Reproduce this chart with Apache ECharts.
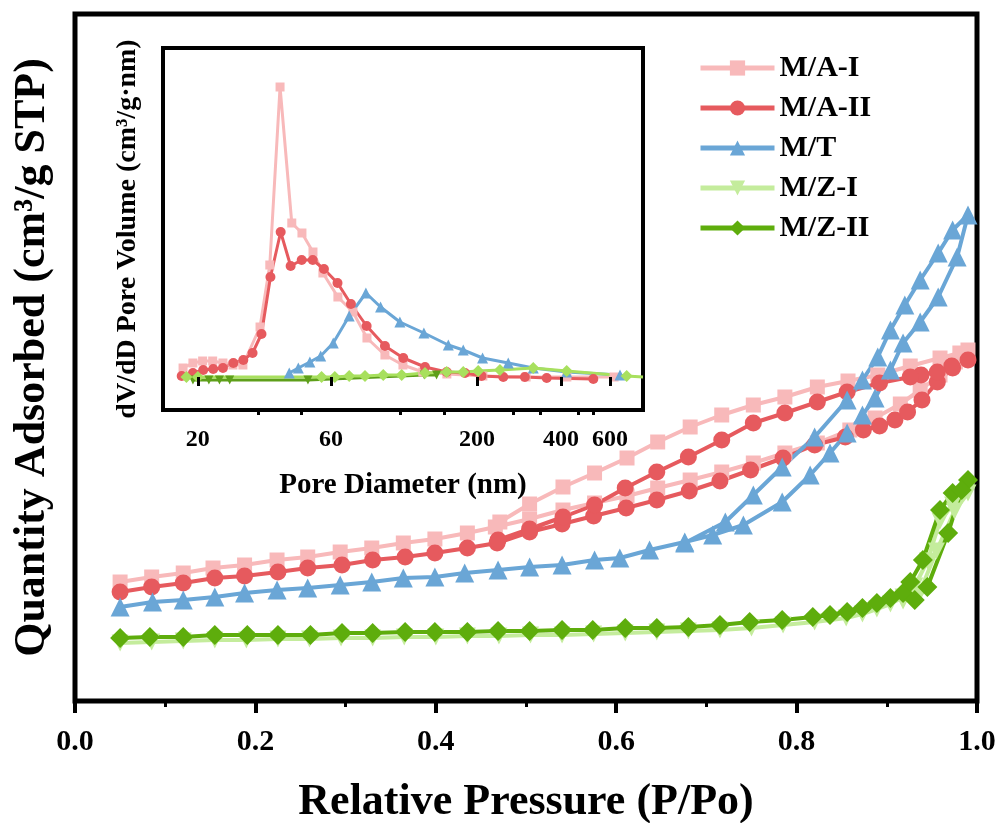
<!DOCTYPE html>
<html><head><meta charset="utf-8">
<script src="https://cdn.jsdelivr.net/npm/echarts@6/dist/echarts.min.js"></script>
<style>html,body{margin:0;padding:0;background:#fff}#c{width:999px;height:823px}</style>
</head><body><div id="c"></div>
<script>
// ---------- main isotherm data: [P/Po, quantity] (adsorption then desorption) ----------
const seriesNames = ['M/A-I', 'M/A-II', 'M/T', 'M/Z-I', 'M/Z-II'];
const xTickLabels = [0, 0.2, 0.4, 0.6, 0.8, 1.0];

const maI = [
 [0.050,119],[0.085,124],[0.120,128],[0.153,133],[0.188,136],[0.224,141],[0.258,144],[0.294,149],[0.329,153],[0.364,158],
 [0.399,162],[0.435,168],[0.466,174],[0.504,182],[0.541,191],[0.576,198],[0.612,205],[0.646,213],[0.682,221],[0.717,229],
 [0.752,238],[0.787,248],[0.823,258],[0.859,271],[0.887,283],[0.915,297],[0.937,311],[0.959,326],[0.976,339],[0.990,351],
 [0.981,348],[0.959,343],[0.926,335],[0.890,326],[0.857,320],[0.823,314],[0.787,304],[0.752,296],[0.717,286],[0.682,274],
 [0.646,259],[0.612,243],[0.576,228],[0.541,214],[0.504,197],[0.471,179]
];
const maII = [
 [0.050,109],[0.085,114],[0.120,118],[0.155,123],[0.188,125],[0.225,129],[0.258,133],[0.296,136],[0.330,141],[0.366,144],
 [0.399,148],[0.435,153],[0.468,158],[0.504,169],[0.540,177],[0.575,185],[0.611,193],[0.645,201],[0.681,210],[0.715,220],
 [0.749,231],[0.785,243],[0.820,256],[0.854,264],[0.874,271],[0.892,275],[0.909,281],[0.923,289],[0.939,301],[0.956,319],
 [0.973,333],[0.990,341],
 [0.972,335],[0.956,329],[0.938,326],[0.926,324],[0.892,318],[0.856,309],[0.823,299],[0.787,288],[0.752,278],[0.717,261],
 [0.680,244],[0.645,229],[0.610,213],[0.576,196],[0.541,184],[0.504,172],[0.469,161]
];
const mT = [
 [0.050,94],[0.086,99],[0.120,101],[0.155,104],[0.188,108],[0.224,111],[0.258,113],[0.294,116],[0.329,119],[0.364,123],
 [0.399,124],[0.432,128],[0.469,131],[0.504,134],[0.540,136],[0.576,141],[0.604,143],[0.637,151],[0.676,159],[0.707,166],
 [0.741,176],[0.784,199],[0.815,226],[0.837,248],[0.856,268],[0.873,286],[0.887,303],[0.904,331],[0.918,358],[0.937,379],
 [0.957,404],[0.978,444],[0.990,486],
 [0.973,471],[0.957,448],[0.937,421],[0.920,396],[0.904,371],[0.890,344],[0.873,321],[0.856,301],[0.820,264],[0.784,234],
 [0.752,206],[0.721,179],[0.676,158]
];
const mZI = [
 [0.050,58],[0.085,59],[0.120,60],[0.155,61],[0.190,61],[0.225,62],[0.260,62],[0.295,63],[0.330,63],[0.365,64],
 [0.400,64],[0.435,65],[0.470,65],[0.505,66],[0.540,66],[0.575,67],[0.610,68],[0.645,69],[0.680,70],[0.715,71],
 [0.750,73],[0.785,76],[0.820,79],[0.855,83],[0.873,87],[0.889,92],[0.904,97],[0.918,104],[0.931,115],[0.945,140],
 [0.959,180],[0.973,196],[0.990,208],
 [0.975,190],[0.955,150],[0.935,105],[0.918,100]
];
const mZII = [
 [0.050,63],[0.083,64],[0.120,64],[0.155,66],[0.191,66],[0.225,66],[0.261,66],[0.296,68],[0.330,68],[0.366,69],
 [0.399,69],[0.435,69],[0.469,70],[0.504,70],[0.540,71],[0.574,71],[0.610,73],[0.645,73],[0.680,74],[0.715,76],
 [0.748,79],[0.784,81],[0.818,84],[0.837,86],[0.856,89],[0.873,93],[0.889,98],[0.904,103],[0.918,108],[0.926,119],
 [0.940,141],[0.959,191],[0.973,208],[0.990,221],
 [0.983,211],[0.968,168],[0.945,114],[0.931,101]
];

// ---------- inset pore size distribution: [pore diameter nm, dV/dD] ----------
const insetTickLabels = [20, 60, 200, 400, 600];
const insetMinorTicks = [33, 47, 106, 153, 270, 336, 460, 520];
const psdMAI = [
 [17.7,9],[19.2,14],[20.8,16],[22.6,16],[24.6,14],[26.7,12],[29.0,12],[33.4,50],[36.2,112],[39.4,290],[43.4,154],[47.2,144],
 [51.7,125],[56.1,104],[63.5,80],[71.9,65],[80.7,39],[93.6,22],[108.6,12],[128,5],[156,3],[210,1],[300,0],[420,0],[620,0]
];
const psdMAII = [
 [17.5,1],[19.2,4],[20.9,7],[22.7,8],[24.6,9],[26.8,14],[29.1,17],[31.4,24],[33.8,43],[36.4,100],[39.6,145],[43.0,111],
 [47.1,117],[51.6,117],[56.6,108],[63.3,94],[70.7,73],[80.5,51],[93.6,31],[108.9,19],[130.3,10],[155.8,5],[181.2,4],
 [207.8,1],[248.5,0],[297,0],[355.6,-1],[522.4,-2]
];
const psdMT = [
 [42.5,4],[45.8,9],[50.4,15],[55.1,21],[61.1,34],[69.7,61],[80.0,84],[90.3,70],[105.9,55],[129.1,44],[157.9,32],[178.6,27],
 [209.5,19],[258.9,14],[318.3,9],[419.4,5],[651,2]
];
const psdMZdark = [[19.2,-3],[21.9,-3],[23.9,-3],[26.0,-3],[49.6,-3],[129.5,2],[143.3,2]];
const psdMZlight = [
 [18.2,0],[20.0,0],[55.5,0],[61.9,0],[69.7,1],[79.4,1],[92.3,2],[107.5,2],[130.3,4],[155.8,5],[178.6,5],[202,6],
 [241.8,7],[318.3,9],[419.4,6],[688,1],[787,0]
];

const colors = {maI:'#F8B9BA', maII:'#E65A5E', mT:'#6AA6D6', mZI:'#C4EC9C', mZII:'#5EAD0C', insetLight:'#A8E05E', insetDark:'#5E9F1A'};
const FONT = '"Liberation Serif", "Times New Roman", serif';
const lg = v => Math.log10(v);
const toLog = arr => arr.map(d => [lg(d[0]), d[1]]);

function mainSeries(name, data, color, symbol, size, rot) {
  return {name, type:'line', xAxisIndex:0, yAxisIndex:0, data, symbol, symbolSize:size, symbolRotate:rot||0,
    itemStyle:{color}, lineStyle:{color, width:4}, animation:false, z:3};
}
function insetSeries(name, data, color, symbol, size, rot) {
  return {name, type:'line', xAxisIndex:1, yAxisIndex:1, data:toLog(data), symbol, symbolSize:size, symbolRotate:rot||0,
    itemStyle:{color}, lineStyle:{color, width:3}, animation:false, z:5};
}

const chart = echarts.init(document.getElementById('c'), null, {renderer:'canvas'});
chart.setOption({
  backgroundColor:'#fff',
  textStyle:{fontFamily:FONT},
  legend:{
    orient:'vertical', left:698, top:53, padding:0, itemWidth:74, itemHeight:19, itemGap:10,
    lineStyle:{width:5},
    textStyle:{fontSize:30, fontWeight:'bold', fontFamily:FONT, color:'#000', lineHeight:30},
    data:seriesNames
  },
  grid:[
    {left:75, top:14, width:902, height:687, show:true, borderColor:'#000', borderWidth:5, backgroundColor:'transparent', outerBoundsMode:'none', containLabel:false},
    {left:163, top:48, width:480, height:362, show:true, borderColor:'#000', borderWidth:4, backgroundColor:'#fff', outerBoundsMode:'none', containLabel:false, z:4}
  ],
  xAxis:[
    {gridIndex:0, type:'value', min:0, max:1, interval:0.2, position:'bottom',
     axisLine:{show:false}, splitLine:{show:false},
     axisTick:{show:true, inside:false, length:12, lineStyle:{width:4, color:'#000'}},
     minorTick:{show:true, splitNumber:2, length:6, lineStyle:{width:3, color:'#000'}},
     axisLabel:{margin:26, fontSize:30, fontWeight:'bold', fontFamily:FONT, color:'#000', formatter:v=>v.toFixed(1)},
     name:'Relative Pressure (P/Po)', nameLocation:'middle', nameGap:80,
     nameTextStyle:{fontSize:44, fontWeight:'bold', fontFamily:FONT, color:'#000'}},
    {gridIndex:1, type:'value', min:lg(15), max:lg(787), position:'bottom',
     axisLine:{show:false}, splitLine:{show:false},
     axisTick:{show:true, inside:false, length:9, lineStyle:{width:3, color:'#000'}, customValues:insetTickLabels.map(lg)},
     axisLabel:{margin:18, fontSize:24, fontWeight:'bold', fontFamily:FONT, color:'#000',
       customValues:insetTickLabels.map(lg), formatter:v=>String(Math.round(Math.pow(10, v)))},
     name:'Pore Diameter (nm)', nameLocation:'middle', nameGap:61,
     nameTextStyle:{fontSize:29, fontWeight:'bold', fontFamily:FONT, color:'#000'}, z:6},
    {gridIndex:1, type:'value', min:lg(15), max:lg(787), position:'bottom', offset:0,
     axisLine:{show:false}, splitLine:{show:false}, axisLabel:{show:false},
     axisTick:{show:true, inside:false, length:5, lineStyle:{width:3, color:'#000'}, customValues:insetMinorTicks.map(lg)}, z:6}
  ],
  yAxis:[
    {gridIndex:0, type:'value', min:0, max:687,
     axisLine:{show:false}, axisTick:{show:false}, axisLabel:{show:false}, splitLine:{show:false},
     name:'Quantity Adsorbed (cm³/g STP)', nameLocation:'middle', nameGap:20, nameRotate:90,
     nameTextStyle:{fontSize:44, fontWeight:'bold', fontFamily:FONT, color:'#000'}},
    {gridIndex:1, type:'value', min:-33, max:329,
     axisLine:{show:false}, axisTick:{show:false}, axisLabel:{show:false}, splitLine:{show:false},
     name:'dV/dD Pore Volume (cm³/g·nm)', nameLocation:'middle', nameGap:21, nameRotate:90,
     nameTextStyle:{fontSize:28, fontWeight:'bold', fontFamily:FONT, color:'#000'}}
  ],
  series:[
    mainSeries('M/A-I', maI, colors.maI, 'rect', 15),
    mainSeries('M/A-II', maII, colors.maII, 'circle', 17),
    mainSeries('M/T', mT, colors.mT, 'triangle', 19),
    mainSeries('M/Z-I', mZI, colors.mZI, 'triangle', 17, 180),
    mainSeries('M/Z-II', mZII, colors.mZII, 'diamond', 20),
    insetSeries('i-MAI', psdMAI, colors.maI, 'rect', 9),
    insetSeries('i-MAII', psdMAII, colors.maII, 'circle', 10),
    insetSeries('i-MT', psdMT, colors.mT, 'triangle', 11),
    insetSeries('i-MZdark', psdMZdark, colors.insetDark, 'triangle', 9, 180),
    insetSeries('i-MZlight', psdMZlight, colors.insetLight, 'diamond', 12)
  ]
});
// last light-green inset point is only the line end at the frame edge
chart.setOption({series:[{},{},{},{},{},{},{},{},{},{data:toLog(psdMZlight).map((d,i,a)=> i===a.length-1 ? {value:d, symbolSize:0} : d)}]});
</script>
</body></html>
